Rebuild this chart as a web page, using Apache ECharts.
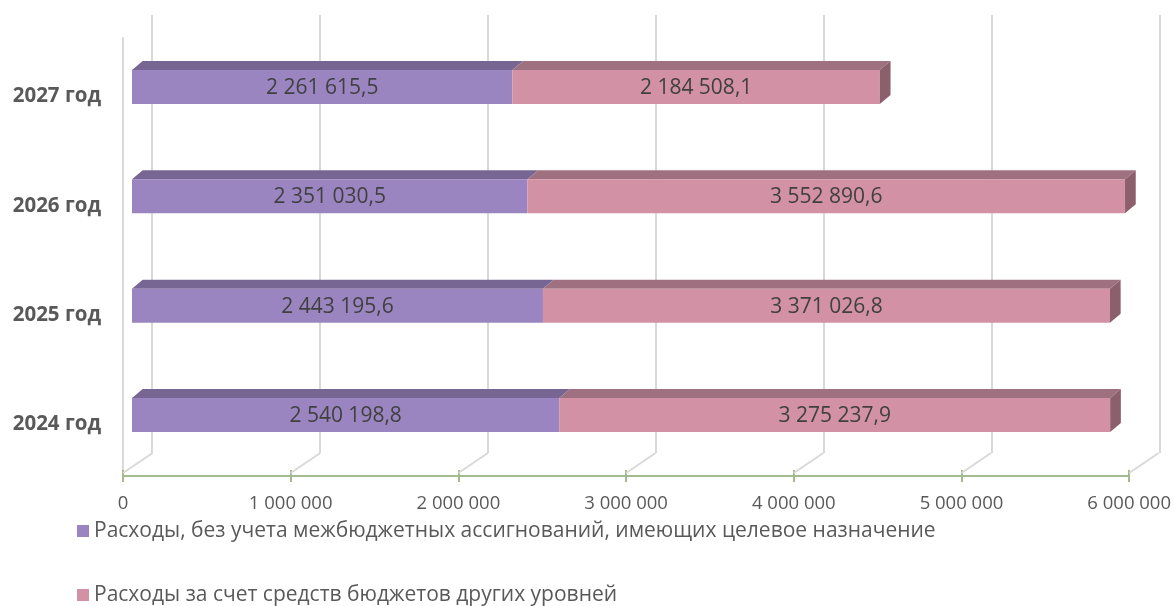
<!DOCTYPE html>
<html>
<head>
<meta charset="utf-8">
<script src="https://cdn.jsdelivr.net/npm/echarts@6/dist/echarts.min.js"></script>
<style>html,body{margin:0;padding:0;background:#fff}#c{width:1174px;height:606px}</style>
</head>
<body>
<div id="c"></div>
<script>
// ---- data ----
var categories = ['2024 год', '2025 год', '2026 год', '2027 год'];
var seriesNames = [
  'Расходы, без учета межбюджетных ассигнований, имеющих целевое назначение',
  'Расходы за счет средств бюджетов других уровней'
];
var ownExpenses = [2540198.8, 2443195.6, 2351030.5, 2261615.5];
var otherLevels = [3275237.9, 3371026.8, 3552890.6, 2184508.1];
var tickValues = [0, 1000000, 2000000, 3000000, 4000000, 5000000, 6000000];

// ---- helpers ----
var FONT = '"Open Sans", sans-serif';
function fmt(v) {
  var parts = v.toFixed(1).split('.');
  var int = parts[0].replace(/\B(?=(\d{3})+(?!\d))/g, ' ');
  return int + ',' + parts[1];
}
function fmtTick(v) {
  return String(Math.round(v)).replace(/\B(?=(\d{3})+(?!\d))/g, ' ');
}
var DX = 10.7, DY = -9; // bar depth offset

function barRenderer(front, top, side, withSide) {
  return function (params, api) {
    var start = api.value(0), end = api.value(1), ci = api.value(2);
    var p0 = api.coord([start, ci]);
    var p1 = api.coord([end, ci]);
    var h = api.size([0, 1])[1] * 0.311;
    var yT = p0[1] - h / 2, yB = p0[1] + h / 2;
    var x0 = p0[0], x1 = p1[0];
    var children = [
      { type: 'polygon', shape: { points: [[x0, yT], [x1, yT], [x1 + DX, yT + DY], [x0 + DX, yT + DY]] },
        style: { fill: top } },
      { type: 'rect', shape: { x: x0, y: yT, width: x1 - x0, height: h }, style: { fill: front } }
    ];
    if (withSide) {
      children.push({ type: 'polygon', shape: { points: [[x1, yT], [x1 + DX, yT + DY], [x1 + DX, yB + DY], [x1, yB]] },
        style: { fill: side } });
    }
    children.push({ type: 'text', x: (x0 + x1) / 2, y: p0[1] + 1,
      style: { text: fmt(api.value(3)), fill: '#404040', fontSize: 21, fontFamily: FONT, align: 'center', verticalAlign: 'middle' } });
    return { type: 'group', children: children };
  };
}

var purpleData = ownExpenses.map(function (v, i) { return [0, v, i, v]; });
var pinkData = otherLevels.map(function (v, i) { return [ownExpenses[i], ownExpenses[i] + v, i, v]; });
var tickData = tickValues.map(function (v) { return [v, 0]; });

var legendBase = {
  orient: 'horizontal', left: 77, padding: 0,
  icon: 'rect', itemWidth: 12, itemHeight: 12,
  textStyle: { color: '#595959', fontSize: 21, lineHeight: 22, fontFamily: FONT }
};

var chart = echarts.init(document.getElementById('c'), null, { renderer: 'canvas' });
var option = {
  animation: false,
  textStyle: { fontFamily: FONT },
  grid: [
    { left: 132, top: 32.3, width: 1009.2, height: 437.4 },   // bars
    { left: 152, top: 15, width: 1008, height: 438 },         // back wall
    { left: 123, top: 38, width: 1007.7, height: 438 },       // front axis
    { left: 132, top: 41.8, width: 1009.2, height: 437.4 }    // category labels (front plane)
  ],
  xAxis: [
    { gridIndex: 0, type: 'value', min: 0, max: 6000000, show: false },
    { gridIndex: 1, type: 'value', min: 0, max: 6000000, interval: 1000000,
      axisLine: { show: false }, axisTick: { show: false }, axisLabel: { show: false },
      splitLine: { show: true, lineStyle: { color: '#d9d9d9', width: 2 } } },
    { gridIndex: 2, type: 'value', min: 0, max: 6000000, interval: 1000000,
      axisLine: { show: true, lineStyle: { color: '#a3b98f', width: 2 } },
      axisTick: { show: true, length: 6, lineStyle: { color: '#a3b98f', width: 2 } },
      axisLabel: { show: true, color: '#595959', fontSize: 18.5, margin: 18, formatter: fmtTick, fontFamily: FONT },
      splitLine: { show: false } },
    { gridIndex: 2, type: 'value', min: 0, max: 6000000, interval: 1000000, position: 'bottom',
      axisLine: { show: false },
      axisTick: { show: true, inside: true, length: 6, lineStyle: { color: '#a3b98f', width: 2 } },
      axisLabel: { show: false }, splitLine: { show: false } },
    { gridIndex: 3, type: 'value', min: 0, max: 6000000, show: false }
  ],
  yAxis: [
    { gridIndex: 0, type: 'category', data: categories, show: false },
    { gridIndex: 1, type: 'value', min: 0, max: 1, show: false },
    { gridIndex: 2, type: 'value', min: 0, max: 1,
      axisLine: { show: true, lineStyle: { color: '#d9d9d9', width: 2 } },
      axisTick: { show: false }, axisLabel: { show: false }, splitLine: { show: false } },
    { gridIndex: 3, type: 'category', data: categories,
      axisLine: { show: false }, axisTick: { show: false },
      axisLabel: { color: '#595959', fontSize: 20.5, fontWeight: 'bold', margin: 31, fontFamily: FONT } }
  ],
  legend: [
    Object.assign({}, legendBase, { top: 520, data: [seriesNames[0]] }),
    Object.assign({}, legendBase, { top: 584, data: [seriesNames[1]] })
  ],
  series: [
    { type: 'custom', name: 'floor', xAxisIndex: 2, yAxisIndex: 2, silent: true, z: 1,
      data: tickData,
      renderItem: function (params, api) {
        var p = api.coord([api.value(0), api.value(1)]);
        return { type: 'line', shape: { x1: p[0], y1: p[1] - 3, x2: p[0] + 29.5, y2: p[1] - 23 },
          style: { stroke: '#d9d9d9', lineWidth: 2 } };
      } },
    { type: 'custom', name: seriesNames[0], xAxisIndex: 0, yAxisIndex: 0, z: 3,
      itemStyle: { color: '#9b85c0' },
      encode: { x: [0, 1], y: 2 },
      data: purpleData,
      renderItem: barRenderer('#9b85c0', '#776693', '#6b5a85', false) },
    { type: 'custom', name: seriesNames[1], xAxisIndex: 0, yAxisIndex: 0, z: 3,
      itemStyle: { color: '#d291a5' },
      encode: { x: [0, 1], y: 2 },
      data: pinkData,
      renderItem: barRenderer('#d291a5', '#9e7080', '#8c5f6d', true) }
  ]
};
chart.setOption(option);
</script>
</body>
</html>
